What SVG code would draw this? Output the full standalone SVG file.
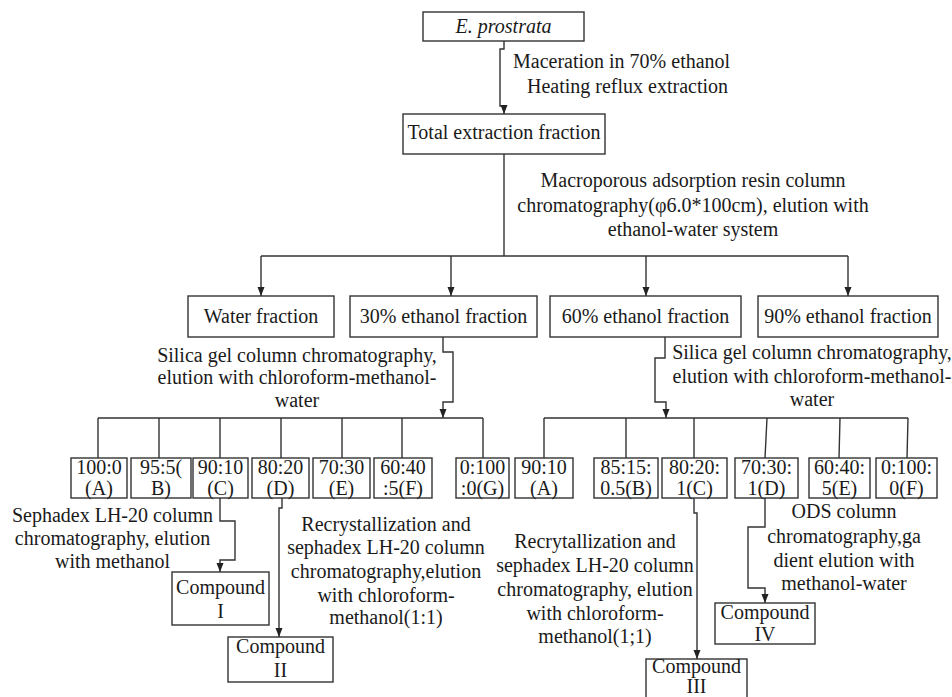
<svg xmlns="http://www.w3.org/2000/svg" width="952" height="697" viewBox="0 0 952 697" font-family="Liberation Serif, DejaVu Serif, serif">
<style>
text{font-family:'Liberation Serif','DejaVu Serif',serif;font-size:20px;fill:#1a1a1a}
.c{text-anchor:middle}
.box{fill:#fff;stroke:#333;stroke-width:1.4}
.ln{fill:none;stroke:#333;stroke-width:1.4}
</style>
<defs>
<marker id="ah" markerUnits="userSpaceOnUse" markerWidth="10" markerHeight="8" refX="9" refY="3.5" orient="auto">
<path d="M0,0 L9,3.5 L0,7 z" fill="#222"/>
</marker>
</defs>
<rect width="952" height="697" fill="#fff"/>

<g id="connectors">
<path class="ln" d="M504,41 V49 H500 V106 H504 V114" marker-end="url(#ah)"/>
<path class="ln" d="M504,154 V256"/>
<path class="ln" d="M261,256 H848"/>
<path class="ln" d="M261,256 V296" marker-end="url(#ah)"/>
<path class="ln" d="M451,256 V296" marker-end="url(#ah)"/>
<path class="ln" d="M646,256 V296" marker-end="url(#ah)"/>
<path class="ln" d="M848,256 V296" marker-end="url(#ah)"/>
<path class="ln" d="M443,337 V352 H453 V402 H443 V418" marker-end="url(#ah)"/>
<path class="ln" d="M665,337 V358 H655 V402 H666 V418" marker-end="url(#ah)"/>
<path class="ln" d="M98,418 H483 M98,418 V458 M159,418 V458 M220,418 V458 M281,418 V458 M342,418 V458 M402,418 V458 M483,418 V458"/>
<path class="ln" d="M544,418 H908 M544,418 V458 M626,418 V458 M694,418 V458 M767,418 L765,458 M840,418 L839,458 M908,418 L907,458"/>
<path class="ln" d="M220,498 V521 H235 V560 H220 V572" marker-end="url(#ah)"/>
<path class="ln" d="M282,498 V508 H279 V637" marker-end="url(#ah)"/>
<path class="ln" d="M694,498 V513 H697 V659" marker-end="url(#ah)"/>
<path class="ln" d="M765,498 V527 H748 V588 H765 V603" marker-end="url(#ah)"/>
</g>

<g id="n-eprostrata"><rect class="box" x="423" y="12" width="161" height="29"/><text class="c" x="503.5" y="33" font-style="italic">E. prostrata</text></g>
<g id="n-total"><rect class="box" x="403" y="114" width="202" height="40"/><text class="c" x="504" y="139">Total extraction fraction</text></g>
<g id="n-water"><rect class="box" x="188" y="296" width="146" height="41"/><text class="c" x="261" y="323">Water fraction</text></g>
<g id="n-30"><rect class="box" x="350" y="296" width="187" height="41"/><text class="c" x="443.5" y="323">30% ethanol fraction</text></g>
<g id="n-60"><rect class="box" x="550" y="296" width="191" height="41"/><text class="c" x="645.5" y="323">60% ethanol fraction</text></g>
<g id="n-90"><rect class="box" x="758" y="296" width="180" height="41"/><text class="c" x="848" y="323">90% ethanol fraction</text></g>

<g id="n-L-A"><rect class="box" x="71" y="458" width="56" height="40"/><text class="c" x="99" y="474">100:0</text><text class="c" x="99" y="495">(A)</text></g>
<g id="n-L-B"><rect class="box" x="131" y="458" width="60" height="40"/><text class="c" x="161" y="474">95:5(</text><text class="c" x="161" y="495">B)</text></g>
<g id="n-L-C"><rect class="box" x="193" y="458" width="55" height="40"/><text class="c" x="220.5" y="474">90:10</text><text class="c" x="220.5" y="495">(C)</text></g>
<g id="n-L-D"><rect class="box" x="252" y="458" width="57" height="40"/><text class="c" x="280.5" y="474">80:20</text><text class="c" x="280.5" y="495">(D)</text></g>
<g id="n-L-E"><rect class="box" x="313" y="458" width="57" height="40"/><text class="c" x="341.5" y="474">70:30</text><text class="c" x="341.5" y="495">(E)</text></g>
<g id="n-L-F"><rect class="box" x="374" y="458" width="58" height="40"/><text class="c" x="403" y="474">60:40</text><text class="c" x="403" y="495">:5(F)</text></g>
<g id="n-L-G"><rect class="box" x="456" y="458" width="53" height="40"/><text class="c" x="482.5" y="474">0:100</text><text class="c" x="482.5" y="495">:0(G)</text></g>

<g id="n-R-A"><rect class="box" x="515" y="458" width="58" height="40"/><text class="c" x="544" y="474">90:10</text><text class="c" x="544" y="495">(A)</text></g>
<g id="n-R-B"><rect class="box" x="594" y="458" width="64" height="40"/><text class="c" x="626" y="474">85:15:</text><text class="c" x="626" y="495">0.5(B)</text></g>
<g id="n-R-C"><rect class="box" x="662" y="458" width="65" height="40"/><text class="c" x="694.5" y="474">80:20:</text><text class="c" x="694.5" y="495">1(C)</text></g>
<g id="n-R-D"><rect class="box" x="735" y="458" width="63" height="40"/><text class="c" x="766.5" y="474">70:30:</text><text class="c" x="766.5" y="495">1(D)</text></g>
<g id="n-R-E"><rect class="box" x="809" y="458" width="61" height="40"/><text class="c" x="839.5" y="474">60:40:</text><text class="c" x="839.5" y="495">5(E)</text></g>
<g id="n-R-F"><rect class="box" x="876" y="458" width="61" height="40"/><text class="c" x="906.5" y="474">0:100:</text><text class="c" x="906.5" y="495">0(F)</text></g>

<g id="n-c1"><rect class="box" x="172" y="572" width="97" height="53"/><text class="c" x="220.5" y="594">Compound</text><text class="c" x="220.5" y="618">I</text></g>
<g id="n-c2"><rect class="box" x="228" y="637" width="105" height="45"/><text class="c" x="280.5" y="653">Compound</text><text class="c" x="280.5" y="677">II</text></g>
<g id="n-c3"><rect class="box" x="646" y="659" width="101" height="46"/><text class="c" x="696.5" y="673">Compound</text><text class="c" x="696.5" y="693" font-size="17">III</text></g>
<g id="n-c4"><rect class="box" x="715" y="603" width="100" height="41"/><text class="c" x="765" y="619">Compound</text><text class="c" x="765" y="641">IV</text></g>

<g id="labels">
<text x="513" y="68">Maceration in 70% ethanol</text>
<text x="527" y="93">Heating reflux extraction</text>
<text class="c" x="693" y="187">Macroporous adsorption resin column</text>
<text class="c" x="693" y="212">chromatography(φ6.0*100cm), elution with</text>
<text class="c" x="693" y="236">ethanol-water system</text>
<text class="c" x="297" y="362">Silica gel column chromatography,</text>
<text class="c" x="297" y="384">elution with chloroform-methanol-</text>
<text class="c" x="297" y="407">water</text>
<text class="c" x="812" y="359">Silica gel column chromatography,</text>
<text class="c" x="812" y="383">elution with chloroform-methanol-</text>
<text class="c" x="812" y="406">water</text>
<text class="c" x="112.5" y="522">Sephadex LH-20 column</text>
<text class="c" x="112.5" y="545">chromatography, elution</text>
<text class="c" x="112.5" y="568">with methanol</text>
<text class="c" x="386" y="531">Recrystallization and</text>
<text class="c" x="386" y="554">sephadex LH-20 column</text>
<text class="c" x="386" y="578">chromatography,elution</text>
<text class="c" x="386" y="602">with chloroform-</text>
<text class="c" x="386" y="624">methanol(1:1)</text>
<text class="c" x="595" y="548">Recrytallization and</text>
<text class="c" x="595" y="572">sephadex LH-20 column</text>
<text class="c" x="595" y="596">chromatography, elution</text>
<text class="c" x="595" y="620">with chloroform-</text>
<text class="c" x="595" y="643">methanol(1;1)</text>
<text class="c" x="844" y="518">ODS column</text>
<text class="c" x="844" y="543">chromatography,ga</text>
<text class="c" x="844" y="567">dient elution with</text>
<text class="c" x="844" y="590">methanol-water</text>
</g>
</svg>
